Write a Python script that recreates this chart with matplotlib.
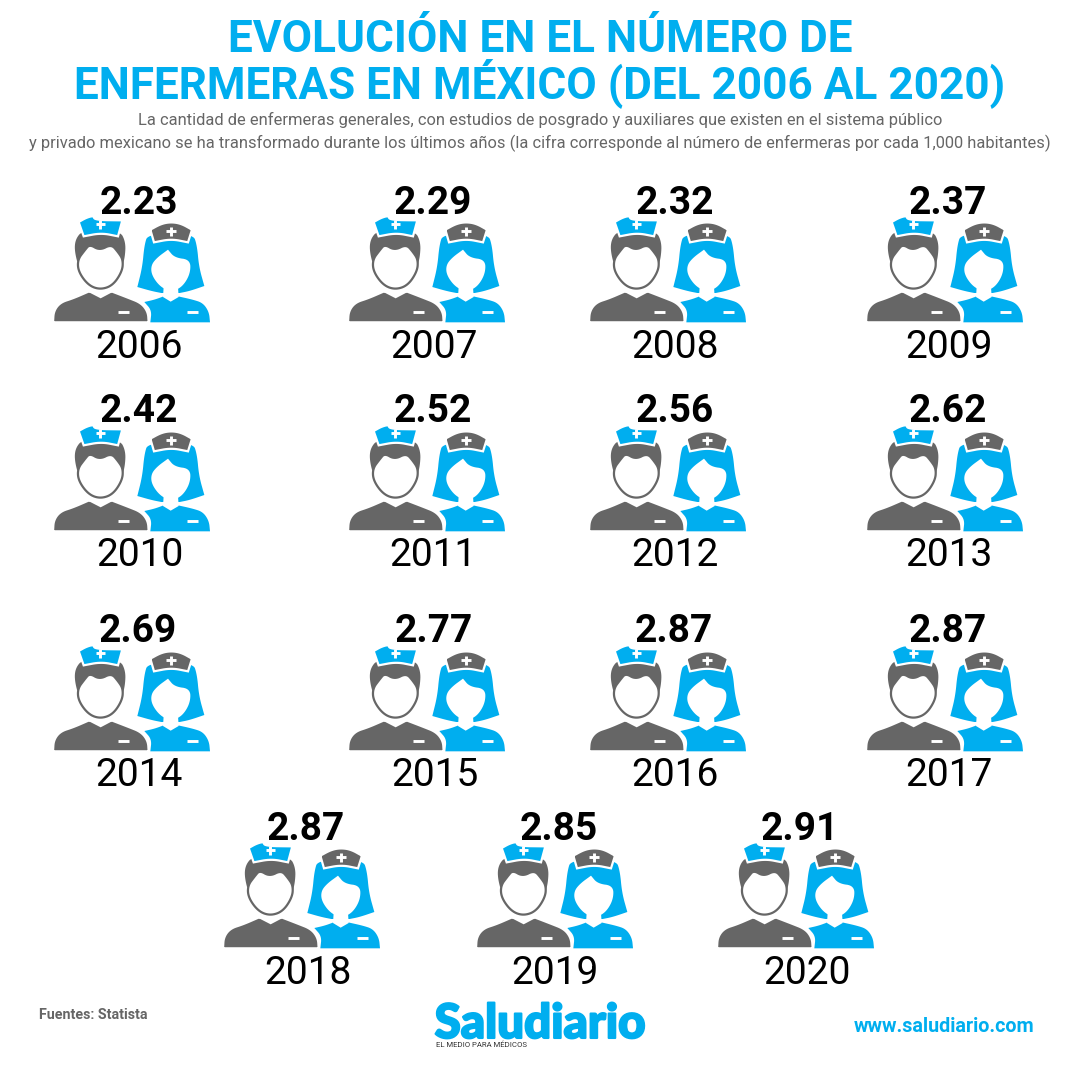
import matplotlib
matplotlib.use("Agg")
from matplotlib import pyplot as plt
from matplotlib import patheffects
from matplotlib.patches import Polygon
from matplotlib.transforms import Affine2D
import numpy as np

years = [2006, 2007, 2008, 2009, 2010, 2011, 2012, 2013,
         2014, 2015, 2016, 2017, 2018, 2019, 2020]
values = [2.23, 2.29, 2.32, 2.37, 2.42, 2.52, 2.56, 2.62,
          2.69, 2.77, 2.87, 2.87, 2.87, 2.85, 2.91]

title_lines = ["EVOLUCIÓN EN EL NÚMERO DE", "ENFERMERAS EN MÉXICO (DEL 2006 AL 2020)"]
subtitle_lines = [
    "La cantidad de enfermeras generales, con estudios de posgrado y auxiliares que existen en el sistema público",
    "y privado mexicano se ha transformado durante los últimos años (la cifra corresponde al número de enfermeras por cada 1,000 habitantes)",
]

# layout of the pictogram grid, in pixels
icon_left = [53, 348, 589, 866, 53, 348, 589, 866, 53, 348, 589, 866, 223, 476, 717]
icon_bottom = [322] * 4 + [531] * 4 + [751] * 4 + [948] * 3
value_x = [139, 433, 675, 948, 139, 433, 675, 948, 138, 434, 674, 948, 306, 559, 800]
year_x = [139, 434, 675, 949, 140, 433, 675, 949, 139, 435, 675, 949, 308, 555, 807]

BLUE = "#00AEEF"
DARK = "#666666"

plt.rcParams["font.family"] = ["Roboto", "DejaVu Sans"]


def smooth(points, rounds=3):
    # corner cutting, so a few control points give a soft outline (repeat a point to keep a corner)
    pts = np.array(points, dtype=float)
    for _ in range(rounds):
        nxt = np.roll(pts, -1, axis=0)
        pts = np.column_stack([0.75 * pts + 0.25 * nxt, 0.25 * pts + 0.75 * nxt]).reshape(-1, 2)
    return pts


# icon outlines (unit: 1/3 px, origin at left/bottom of the icon)
woman_hair = [(325, 190), (460, 190), (472, 225), (478, 290), (494, 347), (494, 347), (450, 362), (420, 368), (420, 368),
              (365, 368), (365, 368), (335, 362), (293, 350), (293, 350), (308, 290), (314, 225)]
woman_face = [(334, 285), (352, 262), (385, 238), (385, 238), (405, 262), (452, 268), (452, 310),
              (428, 350), (395, 364), (362, 350), (336, 315)]
woman_body = [(332, 456), (332, 456), (336, 420), (314, 395), (314, 395), (345, 388), (372, 378), (372, 378),
              (415, 378), (415, 378), (460, 388), (490, 398), (508, 425), (511, 456), (511, 456)]
woman_collar = [(372, 350), (372, 350), (370, 380), (370, 380), (393, 394), (393, 394), (417, 380), (417, 380),
                (415, 350), (415, 350)]
woman_cap = [(332, 178), (332, 178), (365, 160), (395, 155), (425, 160), (457, 178), (457, 178),
             (445, 216), (445, 216), (395, 206), (343, 216), (343, 216)]

man_hair = [(108, 205), (130, 180), (240, 180), (258, 215), (256, 260), (246, 295),
            (118, 295), (104, 240)]
man_face = [(114, 268), (135, 240), (150, 222), (180, 240), (215, 222), (235, 245), (250, 268), (248, 302),
            (220, 345), (182, 358), (146, 345), (116, 304)]
man_body = [(40, 456), (40, 456), (42, 422), (62, 396), (100, 384), (146, 364), (146, 364),
            (218, 364), (218, 364), (265, 382), (305, 398), (325, 425), (327, 456), (327, 456)]
man_collar = [(150, 340), (150, 340), (146, 365), (146, 365), (183, 384), (183, 384), (219, 365), (219, 365),
              (215, 340), (215, 340)]
man_cap = [(117, 155), (117, 155), (140, 142), (162, 136), (165, 149), (248, 150), (248, 150),
           (235, 198), (235, 198), (185, 188), (132, 198), (132, 198)]

icon_plus = [(168, 162, 196, 162), (182, 150, 182, 176), (378, 183, 410, 183), (394, 170, 394, 197)]
icon_minus = [(236, 426, 268, 426), (443, 426, 475, 426)]

icon_shapes = [
    (woman_hair, BLUE, None),
    (woman_body, BLUE, None),
    (woman_collar, "white", None),
    (woman_face, "white", None),
    (woman_cap, DARK, "white"),
    (man_hair, DARK, None),
    (man_body, DARK, "white"),
    (man_collar, "white", None),
    (man_face, "white", DARK),
    (man_cap, BLUE, "white"),
]


def draw_icon(ax, left, bottom):
    tr = Affine2D().translate(-40, -455).scale(1 / 3).translate(left, bottom) + ax.transData
    for outline, fc, ec in icon_shapes:
        ax.add_patch(Polygon(smooth(outline), closed=True, facecolor=fc,
                             edgecolor=ec if ec else "none", linewidth=1.6 if ec else 0, transform=tr))
    for x0, y0, x1, y1 in icon_plus + icon_minus:
        ax.plot([x0, x1], [y0, y1], color="white", lw=2.1, solid_capstyle="butt", transform=tr)


fig = plt.figure(figsize=(10.8, 10.8), dpi=100)
ax = fig.add_axes([0, 0, 1, 1])
ax.set_xlim(0, 1080)
ax.set_ylim(1080, 0)
ax.axis("off")

for line, y in zip(title_lines, [52, 98]):
    ax.text(540, y, line, color=BLUE, fontsize=31.8, fontweight="bold", ha="center", va="baseline")
for line, y in zip(subtitle_lines, [120, 143]):
    ax.text(540, y, line, color=DARK, fontsize=11.9, ha="center", va="center")

for i, year in enumerate(years):
    draw_icon(ax, icon_left[i], icon_bottom[i])
    ax.text(value_x[i], icon_bottom[i] - 119, f"{values[i]:.2f}", color="black", fontsize=28,
            fontweight="bold", ha="center", va="center")
    ax.text(year_x[i], icon_bottom[i] + 25, str(year), color="black", fontsize=28, ha="center", va="center")

ax.text(39, 1015, "Fuentes: Statista", color=DARK, fontsize=10.3, fontweight="bold", ha="left", va="center")
ax.text(1034, 1027, "www.saludiario.com", color=BLUE, fontsize=14.2, fontweight="bold", ha="right", va="center")
logo = ax.text(540, 1024, "Saludiario", color=BLUE, fontsize=34.2, fontweight="black", ha="center", va="center",
               family=["Lato", "DejaVu Sans"])
logo.set_path_effects([patheffects.withStroke(linewidth=1.5, foreground=BLUE)])
ax.text(436, 1045, "EL MEDIO PARA MÉDICOS", color="#333333", fontsize=5.6, ha="left", va="center")

fig.savefig("out.png", dpi=100)
